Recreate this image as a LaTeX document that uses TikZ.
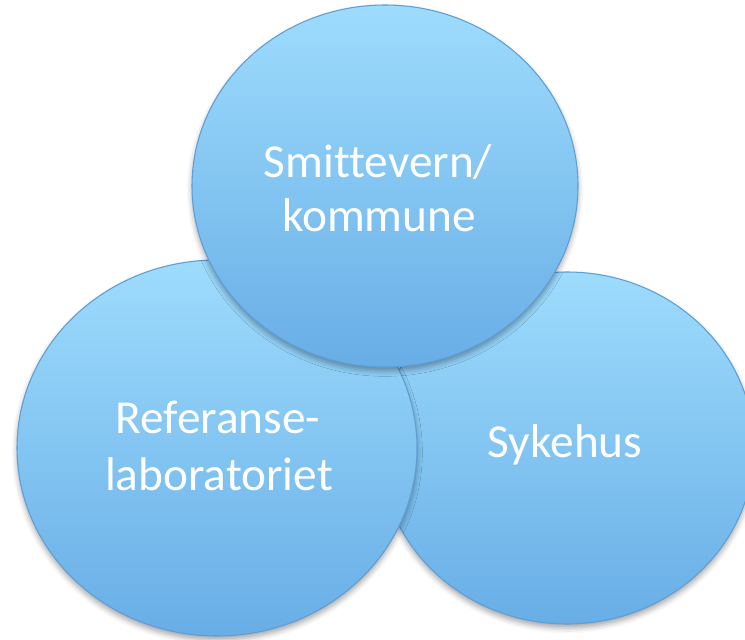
\documentclass[tikz,border=0pt]{standalone}
\usepackage{fontspec}
\setmainfont{Carlito}[Ligatures=NoCommon]
\usetikzlibrary{shapes.geometric,shadows.blur}
\definecolor{bubtop}{HTML}{9EDCFD}
\definecolor{bubbot}{HTML}{68AEE6}
\definecolor{bubline}{HTML}{5E9DD6}
\tikzset{
  bubble/.style={ellipse, inner sep=0pt, draw=bubline, line width=0.8pt,
    top color=bubtop, bottom color=bubbot,
    blur shadow={shadow xshift=0pt, shadow yshift=-3pt, shadow blur radius=4pt, shadow opacity=35}},
  lbl/.style={anchor=base, text=white, inner sep=0pt, font=\fontsize{35.5}{42}\selectfont}
}
\begin{document}
\begin{tikzpicture}[x=0.75pt,y=-0.75pt]
\useasboundingbox (0,0) rectangle (745,639);
\node[bubble, minimum width=280.5pt, minimum height=264pt] (sykehus) at (567,448) {};
\node[bubble, minimum width=300pt, minimum height=282pt] (referanse) at (217,448) {};
\node[bubble, minimum width=289.5pt, minimum height=271.5pt] (smittevern) at (385,186) {};
\node[lbl] (t1) at (378,177) {Smittevern/};
\node[lbl] (t2) at (379,231) {kommune};
\node[lbl] (t3) at (218,433) {Referanse-};
\node[lbl] (t4) at (219,490) {laboratoriet};
\node[lbl] (t5) at (565,457) {Sykehus};
\end{tikzpicture}
\end{document}
